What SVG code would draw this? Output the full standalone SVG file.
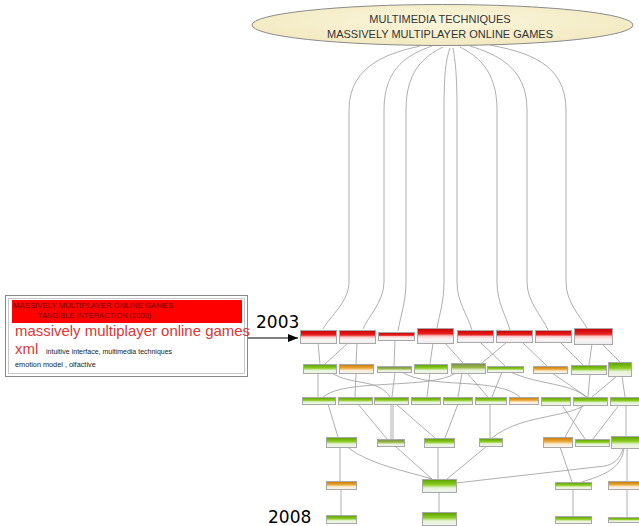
<svg xmlns="http://www.w3.org/2000/svg" width="639" height="526" viewBox="0 0 639 526">
<style>
.e{fill:none;stroke:#9a9a9a;stroke-width:0.8}
.n{stroke:#a8a8a8;stroke-width:1}
.r{fill:url(#gr)}
.g{fill:url(#gg)}
.g2{fill:url(#gg2)}
.o{fill:url(#go)}
.yr{font-family:"DejaVu Sans",sans-serif;font-size:17px;fill:#000}
.et{font-family:"Liberation Sans",Arial,sans-serif;font-size:11px;fill:#333;text-anchor:middle}
</style>
<defs>
<linearGradient id="gr" x1="0" y1="0" x2="0" y2="1">
<stop offset="0" stop-color="#c80000"/><stop offset="0.35" stop-color="#e82020"/><stop offset="0.5" stop-color="#f8c8c8"/><stop offset="0.7" stop-color="#fbf4f4"/><stop offset="1" stop-color="#ececec"/>
</linearGradient>
<linearGradient id="gg" x1="0" y1="0" x2="0" y2="1">
<stop offset="0" stop-color="#5aa000"/><stop offset="0.4" stop-color="#8ccc22"/><stop offset="0.65" stop-color="#e8f4d8"/><stop offset="1" stop-color="#f2f2f2"/>
</linearGradient>
<linearGradient id="gg2" x1="0" y1="0" x2="0" y2="1">
<stop offset="0" stop-color="#7a8a50"/><stop offset="0.4" stop-color="#99bb44"/><stop offset="0.65" stop-color="#e8f0dc"/><stop offset="1" stop-color="#f2f2f2"/>
</linearGradient>
<linearGradient id="go" x1="0" y1="0" x2="0" y2="1">
<stop offset="0" stop-color="#c87800"/><stop offset="0.4" stop-color="#eaa838"/><stop offset="0.65" stop-color="#fcecd4"/><stop offset="1" stop-color="#f4f4f4"/>
</linearGradient>
<radialGradient id="ge" cx="0.5" cy="0.4" r="0.6">
<stop offset="0" stop-color="#fbf6dc"/><stop offset="1" stop-color="#f2e9c0"/>
</radialGradient>
<marker id="ar" markerWidth="10" markerHeight="8" refX="10" refY="4" orient="auto" markerUnits="userSpaceOnUse">
<path d="M0,0 L10,4 L0,8 z" fill="#000"/>
</marker>
</defs>

<g id="connectors">
<path class="e" d="M420 46 C395 52 349 62 349 110 L349 282 C349 302 330 316 323 329"/>
<path class="e" d="M432 46 C410 54 384 66 384 110 L384 282 C384 302 367 318 363 329"/>
<path class="e" d="M443 47 C425 56 406 70 406 110 L406 282 C406 302 400 318 398 331"/>
<path class="e" d="M450 48 C446 60 444 72 444 110 L444 282 C444 302 439 316 437 328"/>
<path class="e" d="M453 48 C455 60 457 72 457 110 L457 282 C457 302 468 316 472 330"/>
<path class="e" d="M460 47 C475 55 497 68 497 110 L497 282 C497 302 506 316 510 330"/>
<path class="e" d="M470 46 C495 54 527 66 527 110 L527 282 C527 302 542 316 548 330"/>
<path class="e" d="M490 45 C525 52 566 62 566 110 L566 282 C566 302 580 316 587 328"/>
<path d="M248 338 L298 338" stroke="#000" stroke-width="1" fill="none" marker-end="url(#ar)"/>
<path class="e" d="M318 343 L320 364"/>
<path class="e" d="M348 343 L325 364"/>
<path class="e" d="M357 343 L356 364"/>
<path class="e" d="M395 340 L394 366"/>
<path class="e" d="M433 343 L430 364"/>
<path class="e" d="M445 343 L463 363"/>
<path class="e" d="M480 342 L505 366"/>
<path class="e" d="M507 342 L482 363"/>
<path class="e" d="M522 342 L547 366"/>
<path class="e" d="M560 342 L583 365"/>
<path class="e" d="M592 344 L589 365"/>
<path class="e" d="M602 344 L620 362"/>
<path class="e" d="M318 373 L318 397"/>
<path class="e" d="M356 373 L355 397"/>
<path class="e" d="M395 372 L392 397"/>
<path class="e" d="M430 373 L427 397"/>
<path class="e" d="M462 373 L458 397"/>
<path class="e" d="M332 373 C352 386 378 378 390 397"/>
<path class="e" d="M456 373 C430 390 345 378 323 397"/>
<path class="e" d="M402 372 C430 390 495 376 520 397"/>
<path class="e" d="M467 373 L488 397"/>
<path class="e" d="M502 372 L492 397"/>
<path class="e" d="M510 372 C540 385 570 383 586 397"/>
<path class="e" d="M552 373 L587 397"/>
<path class="e" d="M590 374 L588 397"/>
<path class="e" d="M617 376 L592 397"/>
<path class="e" d="M622 376 L625 397"/>
<path class="e" d="M328 404 L338 437"/>
<path class="e" d="M358 404 L387 439"/>
<path class="e" d="M391 404 L391 439"/>
<path class="e" d="M393 404 L393 439"/>
<path class="e" d="M396 404 L435 438"/>
<path class="e" d="M458 404 L445 438"/>
<path class="e" d="M490 404 L490 438"/>
<path class="e" d="M585 405 C565 418 520 415 492 438"/>
<path class="e" d="M562 405 L585 439"/>
<path class="e" d="M583 405 L565 437"/>
<path class="e" d="M619 405 L593 439"/>
<path class="e" d="M626 405 L626 436"/>
<path class="e" d="M340 447 L340 481"/>
<path class="e" d="M347 447 C370 465 410 472 432 479"/>
<path class="e" d="M395 446 L432 479"/>
<path class="e" d="M438 447 L438 479"/>
<path class="e" d="M487 446 L447 479"/>
<path class="e" d="M623 448 C621 458 614 464 605 466 L456 483"/>
<path class="e" d="M560 447 L572 482"/>
<path class="e" d="M624 448 C622 470 600 476 582 482"/>
<path class="e" d="M627 448 L627 481"/>
<path class="e" d="M341 489 L341 515"/>
<path class="e" d="M439 492 L439 512"/>
<path class="e" d="M573 489 L573 516"/>
<path class="e" d="M627 489 L627 517"/>
</g>

<g id="topic">
<ellipse cx="442.5" cy="25" rx="190.5" ry="20.5" fill="url(#ge)" stroke="#8a8a8a" stroke-width="1"/>
<text class="et" x="440" y="23" font-size="11.5">MULTIMEDIA TECHNIQUES</text>
<text class="et" x="440" y="37.5" font-size="11.5">MASSIVELY MULTIPLAYER ONLINE GAMES</text>
</g>

<g id="legend">
<rect x="5.5" y="295.5" width="242" height="81" fill="#fff" stroke="#888"/>
<rect x="8.5" y="298.5" width="236" height="75" fill="#fff" stroke="#c8c8c8"/>
<rect x="12" y="300" width="230" height="23" fill="#ff0000"/>
<text x="13" y="307.5" font-family="Liberation Sans,Arial,sans-serif" font-size="7.8" fill="#700000">MASSIVELY MULTIPLAYER ONLINE GAMES</text>
<text x="38" y="317.5" font-family="Liberation Sans,Arial,sans-serif" font-size="7.5" fill="#700000">TANGIBLE INTERACTION (2003)</text>
<text x="15" y="336" font-family="Liberation Sans,Arial,sans-serif" font-size="14.5" fill="#e03535" textLength="235" lengthAdjust="spacingAndGlyphs">massively multiplayer online games</text>
<text x="15" y="354" font-family="Liberation Sans,Arial,sans-serif" font-size="15" fill="#e03535">xml</text>
<text x="46" y="354" font-family="Liberation Sans,Arial,sans-serif" font-size="7" fill="#222">intuitive interface,  multimedia techniques</text>
<text x="15" y="367" font-family="Liberation Sans,Arial,sans-serif" font-size="7.3" fill="#222">emotion model ,  olfactive</text>
</g>

<g id="years">
<text class="yr" x="256" y="328">2003</text>
<text class="yr" x="268" y="523">2008</text>
</g>

<g id="R1"><rect class="n r" x="300.5" y="330.5" width="36" height="13"/></g>
<g id="R2"><rect class="n r" x="339.5" y="330.5" width="36" height="13"/></g>
<g id="R3"><rect class="n r" x="378.5" y="332.5" width="36" height="8"/></g>
<g id="R4"><rect class="n r" x="417.5" y="328.5" width="36" height="15"/></g>
<g id="R5"><rect class="n r" x="457.5" y="330.5" width="36" height="12"/></g>
<g id="R6"><rect class="n r" x="496.5" y="330.5" width="36" height="12"/></g>
<g id="R7"><rect class="n r" x="535.5" y="330.5" width="36" height="12"/></g>
<g id="R8"><rect class="n r" x="574.5" y="328.5" width="38" height="16"/></g>

<g id="A"><rect class="n g" x="303.5" y="364.5" width="33" height="9"/></g>
<g id="B"><rect class="n o" x="339.5" y="364.5" width="34" height="9"/></g>
<g id="C"><rect class="n g2" x="377.5" y="366.5" width="34" height="6"/></g>
<g id="D"><rect class="n g" x="414.5" y="364.5" width="33" height="9"/></g>
<g id="E"><rect class="n g2" x="451.5" y="363.5" width="34" height="10"/></g>
<g id="F"><rect class="n g" x="487.5" y="366.5" width="36" height="6"/></g>
<g id="G"><rect class="n o" x="533.5" y="366.5" width="34" height="7"/></g>
<g id="H"><rect class="n g" x="571.5" y="365.5" width="35" height="9"/></g>
<g id="I"><rect class="n g" x="608.5" y="362.5" width="23" height="14"/></g>

<g id="J1"><rect class="n g" x="302.5" y="397.5" width="33" height="7"/></g>
<g id="J2"><rect class="n g" x="338.5" y="397.5" width="34" height="7"/></g>
<g id="J3"><rect class="n g" x="374.5" y="397.5" width="34" height="7"/></g>
<g id="J4"><rect class="n g" x="411.5" y="397.5" width="29" height="7"/></g>
<g id="J5"><rect class="n g" x="443.5" y="397.5" width="29" height="7"/></g>
<g id="J6"><rect class="n g" x="475.5" y="397.5" width="31" height="7"/></g>
<g id="J7"><rect class="n o" x="509.5" y="397.5" width="29" height="7"/></g>
<g id="J8"><rect class="n g" x="541.5" y="397.5" width="29" height="8"/></g>
<g id="J9"><rect class="n g" x="573.5" y="397.5" width="34" height="8"/></g>
<g id="J10"><rect class="n g" x="610.5" y="397.5" width="30" height="8"/></g>

<g id="K1"><rect class="n g" x="326.5" y="437.5" width="30" height="10"/></g>
<g id="K2"><rect class="n g2" x="377.5" y="439.5" width="27" height="7"/></g>
<g id="K3"><rect class="n g" x="424.5" y="438.5" width="30" height="9"/></g>
<g id="K4"><rect class="n g" x="479.5" y="438.5" width="23" height="8"/></g>
<g id="K5"><rect class="n o" x="543.5" y="437.5" width="29" height="10"/></g>
<g id="K6"><rect class="n g" x="575.5" y="439.5" width="34" height="7"/></g>
<g id="K7"><rect class="n g" x="611.5" y="436.5" width="30" height="12"/></g>

<g id="L1"><rect class="n o" x="326.5" y="481.5" width="30" height="8"/></g>
<g id="L2"><rect class="n g" x="422.5" y="479.5" width="34" height="13"/></g>
<g id="L3"><rect class="n g" x="555.5" y="482.5" width="36" height="7"/></g>
<g id="L4"><rect class="n o" x="608.5" y="481.5" width="31" height="8"/></g>

<g id="M1"><rect class="n g" x="326.5" y="515.5" width="30" height="8"/></g>
<g id="M2"><rect class="n g" x="422.5" y="512.5" width="34" height="13"/></g>
<g id="M3"><rect class="n g" x="555.5" y="516.5" width="36" height="7"/></g>
<g id="M4"><rect class="n g" x="608.5" y="517.5" width="31" height="5"/></g>
</svg>
